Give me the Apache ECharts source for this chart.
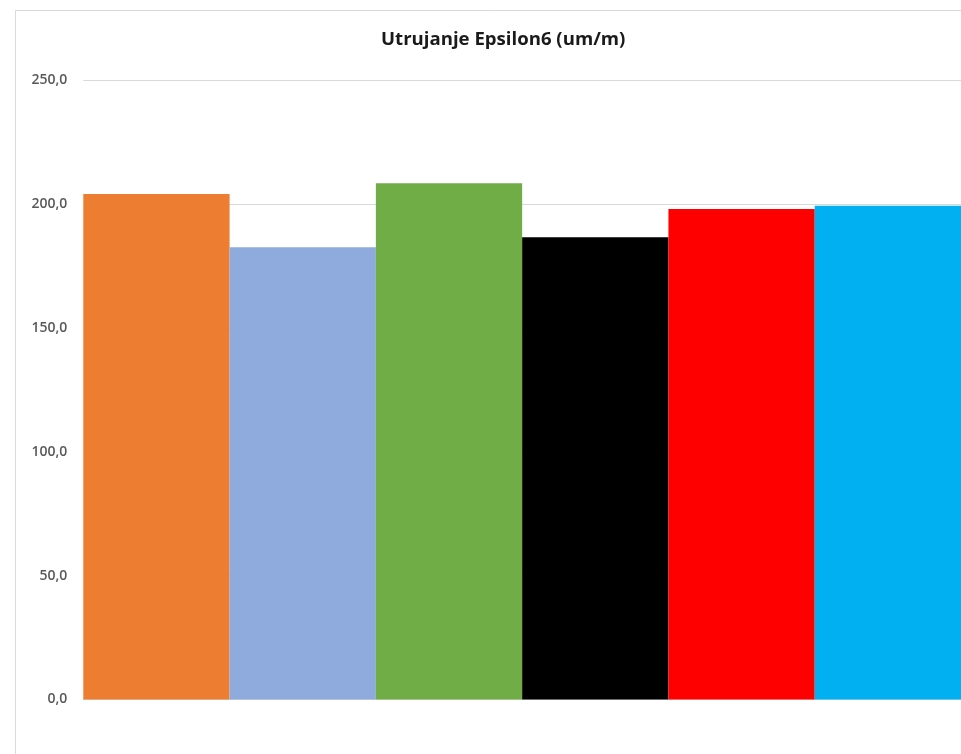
<!DOCTYPE html>
<html>
<head>
<meta charset="utf-8">
<script src="https://cdn.jsdelivr.net/npm/echarts@6/dist/echarts.min.js"></script>
<style>
  html, body { margin: 0; padding: 0; background: #ffffff; }
  #chart { width: 961px; height: 754px; }
</style>
</head>
<body>
<div id="chart"></div>
<script>
// Fatigue strain Epsilon6, one bar per mix
const categories = ['1', '2', '3', '4', '5', '6'];
const values = [204.0, 182.5, 208.3, 186.5, 197.9, 199.3];
const barColors = ['#ED7D31', '#8FAADC', '#70AD47', '#000000', '#FF0000', '#00B0F0'];
const yTicks = { min: 0, max: 250, step: 50 };

const chart = echarts.init(document.getElementById('chart'), null, { renderer: 'canvas' });

const fmt = v => v.toFixed(1).replace('.', ',');

chart.setOption({
  animation: false,
  backgroundColor: '#ffffff',
  textStyle: { fontFamily: '"Open Sans", "Noto Sans", sans-serif' },
  title: {
    text: 'Utrujanje Epsilon6 (um/m)',
    left: 376,
    top: 25,
    textStyle: {
      fontFamily: '"Open Sans", "Noto Sans", sans-serif',
      fontSize: 18.6,
      fontWeight: 'bold',
      color: '#1a1a1a'
    }
  },
  graphic: [{
    type: 'rect',
    shape: { x: 15.5, y: 10.5, width: 1000, height: 1000 },
    style: { fill: 'none', stroke: '#d9d9d9', lineWidth: 1 },
    silent: true,
    z: -1
  }],
  grid: { left: 83.3, right: -2.3, top: 80, bottom: 54.5, containLabel: false },
  xAxis: {
    type: 'category',
    data: categories,
    axisLine: { show: true, lineStyle: { color: '#d9d9d9', width: 1 } },
    axisTick: { show: false },
    axisLabel: { show: false },
    splitLine: { show: false }
  },
  yAxis: {
    type: 'value',
    min: yTicks.min,
    max: yTicks.max,
    interval: yTicks.step,
    axisLine: { show: false },
    axisTick: { show: false },
    axisLabel: {
      formatter: fmt,
      color: '#595959',
      fontSize: 14,
      fontWeight: 600,
      margin: 16,
      fontFamily: '"Open Sans", "Noto Sans", sans-serif'
    },
    splitLine: { lineStyle: { color: '#d9d9d9', width: 1 } }
  },
  series: [{
    type: 'bar',
    barCategoryGap: '0%',
    data: values.map((v, i) => ({ value: v, itemStyle: { color: barColors[i] } }))
  }]
});
</script>
</body>
</html>
